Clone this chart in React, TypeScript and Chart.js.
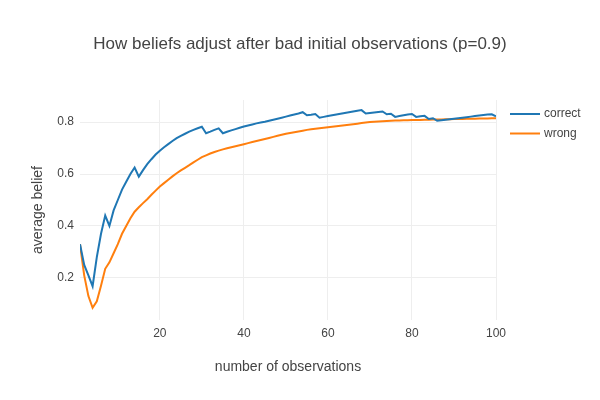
import React, { useEffect, useRef } from "react";
import { Chart, registerables } from "chart.js";
Chart.register(...registerables);

const observations: number[] = Array.from({ length: 100 }, (_, i) => i + 1);
const correct: number[] = [
  0.33, 0.25, 0.21, 0.168, 0.28, 0.37, 0.44, 0.40, 0.46, 0.50,
  0.54, 0.57, 0.60, 0.625, 0.59, 0.615, 0.638, 0.657, 0.675, 0.69,
  0.703, 0.715, 0.727, 0.738, 0.747, 0.755, 0.763, 0.77, 0.776, 0.782,
  0.757, 0.763, 0.77, 0.776, 0.757, 0.763, 0.768, 0.773, 0.778, 0.783,
  0.787, 0.791, 0.795, 0.798, 0.801, 0.805, 0.809, 0.813, 0.817, 0.821,
  0.825, 0.829, 0.833, 0.838, 0.826, 0.828, 0.831, 0.817, 0.82, 0.823,
  0.826, 0.829, 0.832, 0.835, 0.838, 0.841, 0.844, 0.846, 0.833, 0.835,
  0.837, 0.839, 0.841, 0.83, 0.832, 0.82, 0.823, 0.826, 0.829, 0.831,
  0.82, 0.822, 0.824, 0.812, 0.815, 0.805, 0.807, 0.809, 0.811, 0.813,
  0.815, 0.817, 0.819, 0.821, 0.823, 0.825, 0.827, 0.829, 0.83, 0.822,
];
const wrong: number[] = [
  0.33, 0.21, 0.13, 0.085, 0.11, 0.17, 0.235, 0.26, 0.295, 0.33,
  0.37, 0.40, 0.43, 0.455, 0.472, 0.488, 0.503, 0.52, 0.536, 0.552,
  0.565, 0.578, 0.591, 0.603, 0.614, 0.624, 0.634, 0.645, 0.655, 0.665,
  0.672, 0.679, 0.685, 0.69, 0.695, 0.699, 0.703, 0.707, 0.711, 0.715,
  0.719, 0.723, 0.727, 0.731, 0.735, 0.739, 0.743, 0.747, 0.751, 0.755,
  0.758, 0.761, 0.764, 0.767, 0.77, 0.772, 0.774, 0.776, 0.778, 0.78,
  0.782, 0.784, 0.786, 0.788, 0.79, 0.792, 0.794, 0.796, 0.798, 0.80,
  0.801, 0.802, 0.803, 0.804, 0.805, 0.806, 0.806, 0.807, 0.807, 0.808,
  0.808, 0.808, 0.809, 0.809, 0.81, 0.81, 0.81, 0.811, 0.811, 0.812,
  0.812, 0.812, 0.813, 0.813, 0.813, 0.814, 0.814, 0.814, 0.815, 0.815,
];
const xTicks: number[] = [20, 40, 60, 80, 100];
const yTicks: number[] = [0.2, 0.4, 0.6, 0.8];
const seriesNames = ["correct", "wrong"];
const colors = ["#1f77b4", "#ff7f0e"];

const FONT = '"Liberation Sans", Arial, sans-serif';

export default function App() {
  const ref = useRef<HTMLCanvasElement>(null);
  useEffect(() => {
    const decor = {
      id: "decor",
      afterDraw(chart: any) {
        const ctx = chart.ctx;
        ctx.save();
        ctx.fillStyle = "#444";
        ctx.textBaseline = "middle";
        ctx.textAlign = "center";
        ctx.font = `17px ${FONT}`;
        ctx.fillText("How beliefs adjust after bad initial observations (p=0.9)", 300, 44);
        ctx.font = `14px ${FONT}`;
        ctx.fillText("number of observations", 288, 367);
        ctx.save();
        ctx.translate(38, 210);
        ctx.rotate(-Math.PI / 2);
        ctx.fillText("average belief", 0, 0);
        ctx.restore();
        ctx.textAlign = "left";
        ctx.font = `12px ${FONT}`;
        seriesNames.forEach((n, i) => {
          const y = 114 + i * 19.5;
          ctx.strokeStyle = colors[i];
          ctx.lineWidth = 2;
          ctx.beginPath();
          ctx.moveTo(510, y);
          ctx.lineTo(540, y);
          ctx.stroke();
          ctx.fillText(n, 544, y);
        });
        ctx.restore();
      },
    };
    const chart = new Chart(ref.current!, {
      type: "line",
      data: {
        labels: observations,
        datasets: [
          { label: seriesNames[0], data: observations.map((x, i) => ({ x, y: correct[i] })), borderColor: colors[0], borderWidth: 2, pointRadius: 0, tension: 0 },
          { label: seriesNames[1], data: observations.map((x, i) => ({ x, y: wrong[i] })), borderColor: colors[1], borderWidth: 2, pointRadius: 0, tension: 0 },
        ],
      },
      options: {
        animation: false,
        responsive: false,
        layout: { padding: { top: 100, right: 104, left: 0, bottom: 0 } },
        plugins: { legend: { display: false }, title: { display: false }, tooltip: { enabled: false } },
        scales: {
          x: {
            type: "linear",
            min: 1,
            max: 100,
            afterBuildTicks: (s: any) => { s.ticks = xTicks.map((v) => ({ value: v })); },
            afterFit: (s: any) => { s.height = 80; },
            grid: { color: "#eeeeee", drawTicks: false },
            border: { display: false },
            ticks: { color: "#444", font: { family: FONT, size: 12 }, padding: 6, maxRotation: 0 },
          },
          y: {
            min: 0.038,
            max: 0.885,
            afterBuildTicks: (s: any) => { s.ticks = yTicks.map((v) => ({ value: v })); },
            afterFit: (s: any) => { s.width = 80; },
            grid: { color: "#eeeeee", drawTicks: false },
            border: { display: false },
            ticks: { color: "#444", font: { family: FONT, size: 12 }, padding: 6, callback: (v: any) => Number(v).toFixed(1) },
          },
        },
      },
      plugins: [decor],
    });
    return () => chart.destroy();
  }, []);
  return (
    <div style={{ position: "absolute", left: 0, top: 0, width: 600, height: 400, background: "#fff" }}>
      <canvas ref={ref} width={600} height={400} style={{ width: 600, height: 400 }} />
    </div>
  );
}
